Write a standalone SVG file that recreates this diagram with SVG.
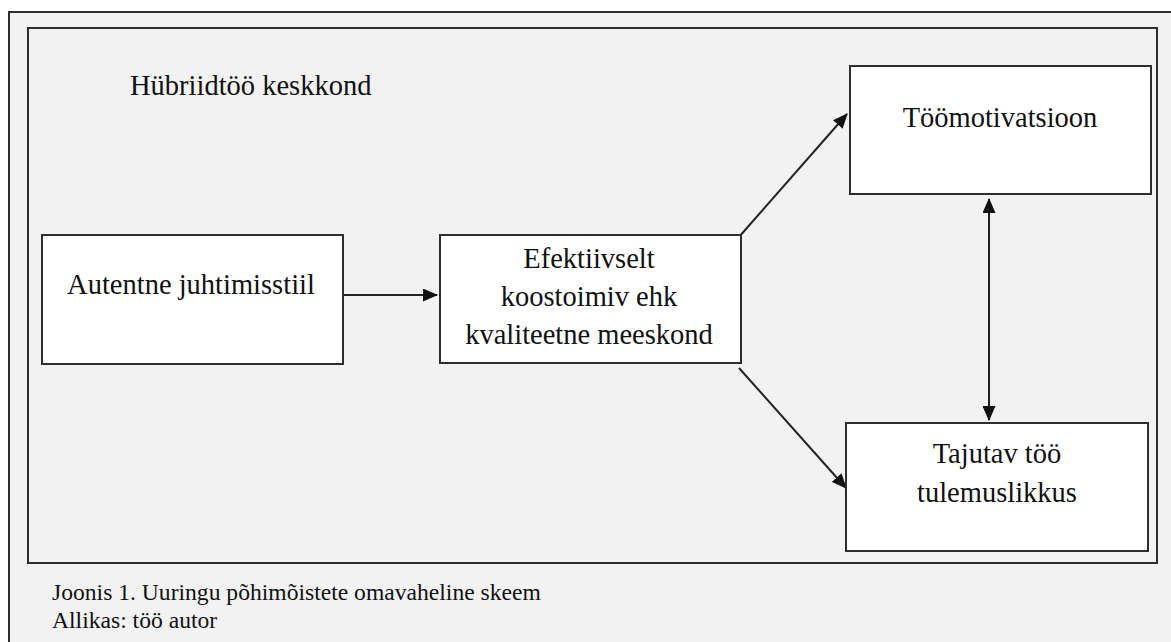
<svg xmlns="http://www.w3.org/2000/svg" width="1171" height="642" viewBox="0 0 1171 642">
<style>
.frame{fill:none;stroke:#2e2e2e;stroke-width:2}
.box{fill:#ffffff;stroke:#2e2e2e;stroke-width:2}
.t{font-family:"Liberation Serif","Times New Roman",serif;font-size:28.5px;fill:#111}
.c{text-anchor:middle}
.cap{font-family:"Liberation Serif","Times New Roman",serif;font-size:23.6px;fill:#111}
.arr{stroke:#222;stroke-width:2;fill:none}
</style>
<defs>
<marker id="ah" markerUnits="userSpaceOnUse" markerWidth="15" markerHeight="13" refX="14" refY="6.5" orient="auto-start-reverse" viewBox="0 0 15 13">
<path d="M0,0 L15,6.5 L0,13 z" fill="#111"/>
</marker>
</defs>
<rect x="0" y="0" width="1171" height="642" fill="#ffffff"/>
<rect x="9" y="12" width="1162" height="630" fill="#f2f2f2"/>
<path class="frame" d="M9,642 V12 H1171"/>
<rect class="frame" x="28" y="28" width="1129" height="535"/>
<text class="t" x="130" y="95">Hübriidtöö keskkond</text>
<g id="connectors">
<line class="arr" x1="343" y1="295" x2="437" y2="295" marker-end="url(#ah)"/>
<line class="arr" x1="739" y1="237" x2="847" y2="114" marker-end="url(#ah)"/>
<line class="arr" x1="739" y1="368" x2="846" y2="488" marker-end="url(#ah)"/>
<line class="arr" x1="989" y1="199" x2="989" y2="420" marker-start="url(#ah)" marker-end="url(#ah)"/>
</g>
<g id="autentne">
<rect class="box" x="42" y="235" width="301" height="129"/>
<text class="t c" x="191" y="294">Autentne juhtimisstiil</text>
</g>
<g id="meeskond">
<rect class="box" x="440" y="235" width="301" height="128"/>
<text class="t c" x="589" y="268">Efektiivselt</text>
<text class="t c" x="589" y="306">koostoimiv ehk</text>
<text class="t c" x="589" y="344">kvaliteetne meeskond</text>
</g>
<g id="toomotivatsioon">
<rect class="box" x="850" y="66" width="301" height="128"/>
<text class="t c" x="1000" y="127">Töömotivatsioon</text>
</g>
<g id="tulemuslikkus">
<rect class="box" x="846" y="423" width="302" height="128"/>
<text class="t c" x="997" y="463">Tajutav töö</text>
<text class="t c" x="997" y="502">tulemuslikkus</text>
</g>
<g id="caption">
<text class="cap" x="52" y="600">Joonis 1. Uuringu põhimõistete omavaheline skeem</text>
<text class="cap" x="52" y="628">Allikas: töö autor</text>
</g>
</svg>
